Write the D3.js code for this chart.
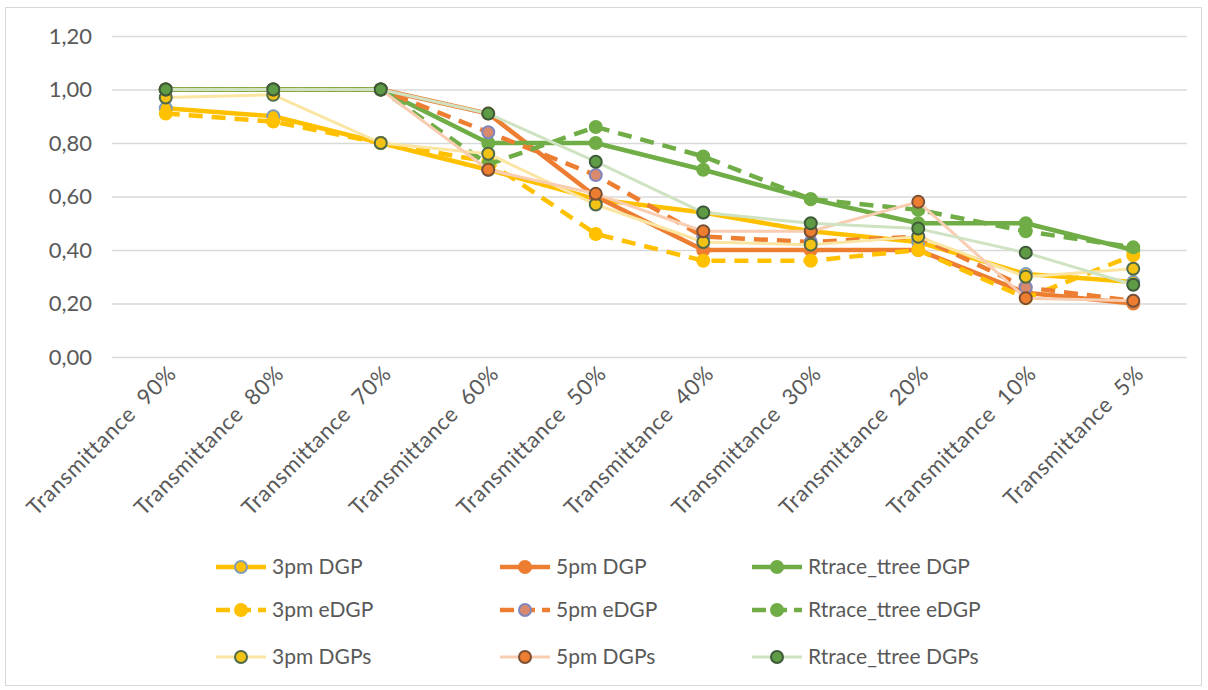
<!DOCTYPE html>
<html><head><meta charset="utf-8">
<script src="https://cdn.jsdelivr.net/npm/d3@7"></script>
<style>
body{margin:0;background:#fff;}
svg text{font-family:Lato, "Open Sans", sans-serif;fill:#595959;}
</style></head>
<body><svg id="c" width="1208" height="690"></svg>
<script>
const categories = ["Transmittance  90%","Transmittance  80%","Transmittance  70%","Transmittance  60%","Transmittance  50%","Transmittance  40%","Transmittance  30%","Transmittance  20%","Transmittance  10%","Transmittance  5%"];
const yTicks = [0,0.2,0.4,0.6,0.8,1.0,1.2];

const pm3DGP   = [0.93,0.90,0.80,0.70,0.59,0.54,0.47,0.43,0.31,0.28];
const pm5DGP   = [1.00,1.00,1.00,0.91,0.60,0.40,0.40,0.40,0.24,0.20];
const rtDGP    = [1.00,1.00,1.00,0.80,0.80,0.70,0.59,0.50,0.50,0.40];
const pm3eDGP  = [0.91,0.88,0.80,0.73,0.46,0.36,0.36,0.40,0.22,0.38];
const pm5eDGP  = [1.00,1.00,1.00,0.84,0.68,0.45,0.43,0.45,0.26,0.21];
const rteDGP   = [1.00,1.00,1.00,0.72,0.86,0.75,0.59,0.55,0.47,0.41];
const pm3DGPs  = [0.97,0.98,0.80,0.76,0.57,0.43,0.42,0.45,0.30,0.33];
const pm5DGPs  = [1.00,1.00,1.00,0.70,0.61,0.47,0.47,0.58,0.22,0.21];
const rtDGPs   = [1.00,1.00,1.00,0.91,0.73,0.54,0.50,0.48,0.39,0.27];

const seriesNames = ["3pm DGP","5pm DGP","Rtrace_ttree DGP","3pm eDGP","5pm eDGP","Rtrace_ttree eDGP","3pm DGPs","5pm DGPs","Rtrace_ttree DGPs"];
const seriesValues = [pm3DGP,pm5DGP,rtDGP,pm3eDGP,pm5eDGP,rteDGP,pm3DGPs,pm5DGPs,rtDGPs];
const styles = [
  {stroke:"#FFC000",w:4.5,dash:null,mf:"#FFC000",ms:"#7f9cb8"},
  {stroke:"#ED7D31",w:4.5,dash:null,mf:"#ED7D31",ms:"#ED7D31"},
  {stroke:"#70AD47",w:4.5,dash:null,mf:"#70AD47",ms:"#70AD47"},
  {stroke:"#FFC000",w:4.5,dash:"14,9",mf:"#FFC000",ms:"#FFC000"},
  {stroke:"#ED7D31",w:4.5,dash:"14,9",mf:"#d98a6c",ms:"#7f86c0"},
  {stroke:"#70AD47",w:4.5,dash:"14,9",mf:"#70AD47",ms:"#70AD47"},
  {stroke:"#FBE5A3",w:3,dash:null,mf:"#F2C315",ms:"#4f6a4a"},
  {stroke:"#F8CDB2",w:3,dash:null,mf:"#ED7D31",ms:"#7a4f33"},
  {stroke:"#CFE3C2",w:3,dash:null,mf:"#5f9a45",ms:"#3e5a3a"}
];

const svg = d3.select("#c");
svg.append("rect").attr("x",5.5).attr("y",7.5).attr("width",1196).attr("height",678)
  .attr("fill","#fff").attr("stroke","#d9d9d9").attr("stroke-width",1);

const x = d3.scaleBand().domain(categories).range([112,1187]);
const y = d3.scaleLinear().domain([0,1.2]).range([357,36]);
const fmt = v => d3.format(".2f")(v).replace(".",",");

// grid + y labels
const yAxis = d3.axisLeft(y).tickValues(yTicks).tickFormat(fmt).tickSize(-(1187-112)).tickPadding(20);
const gy = svg.append("g").attr("transform","translate(112,0)").call(yAxis);
gy.select(".domain").remove();
gy.selectAll(".tick line").attr("stroke","#d9d9d9").attr("stroke-width",1.3);
gy.selectAll(".tick text").style("font-size","22px").attr("fill","#595959");

// x labels
const xAxis = d3.axisBottom(x).tickSize(0).tickPadding(0);
const gx = svg.append("g").attr("transform","translate(0,357)").call(xAxis);
gx.select(".domain").remove();
gx.selectAll(".tick text")
  .style("font-size","22px").style("white-space","pre").style("letter-spacing","0.6px")
  .attr("fill","#595959")
  .attr("text-anchor","end").attr("dy",0)
  .attr("transform","translate(12,18) rotate(-45)");

const cx = i => x(categories[i]) + x.bandwidth()/2;
const line = d3.line().x((d,i)=>cx(i)).y(d=>y(d));

seriesValues.forEach((vals,k)=>{
  const s = styles[k];
  const g = svg.append("g");
  g.append("path").attr("d",line(vals)).attr("fill","none")
    .attr("stroke",s.stroke).attr("stroke-width",s.w)
    .attr("stroke-linejoin","round").attr("stroke-dasharray",s.dash);
  g.selectAll("circle").data(vals).enter().append("circle")
    .attr("cx",(d,i)=>cx(i)).attr("cy",d=>y(d)).attr("r",6)
    .attr("fill",s.mf).attr("stroke",s.ms).attr("stroke-width",2);
});

// legend
const legCols = [216,500,752];
const legRows = [567,610,657];
seriesNames.forEach((name,k)=>{
  const s = styles[k];
  const lx = legCols[k%3], ly = legRows[Math.floor(k/3)];
  const g = svg.append("g");
  g.append("line").attr("x1",lx).attr("x2",lx+50).attr("y1",ly).attr("y2",ly)
    .attr("stroke",s.stroke).attr("stroke-width",s.w).attr("stroke-dasharray",s.dash?"14,7":null);
  g.append("circle").attr("cx",lx+25).attr("cy",ly).attr("r",6)
    .attr("fill",s.mf).attr("stroke",s.ms).attr("stroke-width",2);
  g.append("text").attr("x",lx+56).attr("y",ly).attr("dy","0.35em")
    .style("font-size","21px").text(name);
});
</script></body></html>
